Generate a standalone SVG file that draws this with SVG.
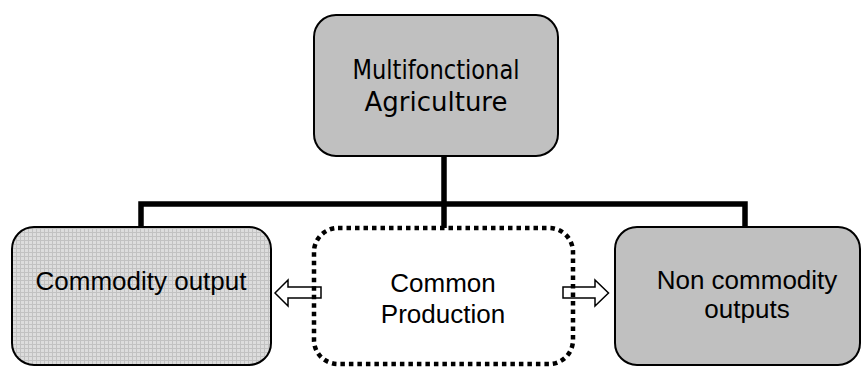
<svg xmlns="http://www.w3.org/2000/svg" width="863" height="367" viewBox="0 0 863 367">
  <defs>
    <pattern id="grid" width="4" height="4" patternUnits="userSpaceOnUse">
      <rect width="4" height="4" fill="#dddddd"/>
      <path d="M0 0.5H4M0.5 0V4" stroke="#c2c2c2" stroke-width="1"/>
    </pattern>
    <style>
      .box { stroke: #000; stroke-width: 2; }
      .gray { fill: #c0c0c0; }
      .hatch { fill: url(#grid); }
      .dotted { fill: none; stroke: #000; stroke-width: 4.5; stroke-dasharray: 4.5 4; }
      .conn { fill: none; stroke: #000; stroke-width: 5.5; }
      .arrow { fill: #fff; stroke: #000; stroke-width: 1.5; stroke-linejoin: miter; }
      .t { font-family: "Liberation Sans", Arial, sans-serif; font-size: 26px; fill: #000; text-anchor: middle; }
      .v { font-family: "DejaVu Sans", Verdana, sans-serif; font-size: 26px; fill: #000; text-anchor: middle; }
    </style>
  </defs>

  <g id="connectors">
    <path class="conn" d="M444 156V204M141 227V204H745V227M444 204V228"/>
    <path id="arrow-left" class="arrow" d="M321 287H288V280L275 293L288 306V298H321Z"/>
    <path id="arrow-right" class="arrow" d="M563 287H595V280L608.5 293L595 306V298H563Z"/>
  </g>

  <g id="node-top">
    <rect class="box gray" x="314" y="15" width="244" height="141" rx="22" ry="22"/>
    <text class="v" x="436" y="79" style="font-stretch:condensed" textLength="167" lengthAdjust="spacingAndGlyphs">Multifonctional</text>
    <text class="v" x="436" y="111">Agriculture</text>
  </g>

  <g id="node-commodity">
    <rect class="box hatch" x="12" y="227" width="259" height="138" rx="22" ry="22"/>
    <text class="t" x="141" y="290">Commodity output</text>
  </g>

  <g id="node-common">
    <rect class="dotted" x="314" y="228" width="259" height="136" rx="24" ry="24"/>
    <text class="t" x="443" y="292">Common</text>
    <text class="t" x="443" y="323">Production</text>
  </g>

  <g id="node-noncommodity">
    <rect class="box gray" x="615" y="227" width="245" height="138" rx="22" ry="22"/>
    <text class="t" x="747" y="289">Non commodity</text>
    <text class="t" x="747" y="318">outputs</text>
  </g>
</svg>
